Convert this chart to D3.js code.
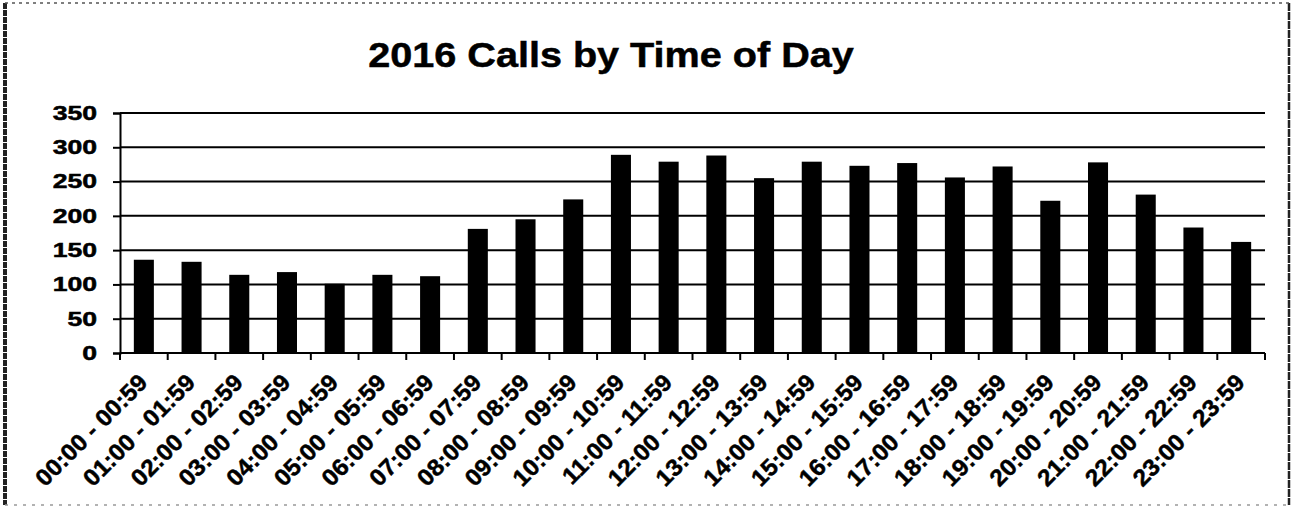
<!DOCTYPE html>
<html>
<head>
<meta charset="utf-8">
<script src="https://cdn.jsdelivr.net/npm/d3@7"></script>
<style>
  body { margin: 0; background: #fff; }
  text { font-family: Arial, "Liberation Sans", sans-serif; font-weight: bold; fill: #000;
         stroke: #000; stroke-width: 0.5px; }
</style>
</head>
<body>
<div id="chart"></div>
<script>
const title = "2016 Calls by Time of Day"

const hours = ["00:00 - 00:59", "01:00 - 01:59", "02:00 - 02:59", "03:00 - 03:59",
               "04:00 - 04:59", "05:00 - 05:59", "06:00 - 06:59", "07:00 - 07:59",
               "08:00 - 08:59", "09:00 - 09:59", "10:00 - 10:59", "11:00 - 11:59",
               "12:00 - 12:59", "13:00 - 13:59", "14:00 - 14:59", "15:00 - 15:59",
               "16:00 - 16:59", "17:00 - 17:59", "18:00 - 18:59", "19:00 - 19:59",
               "20:00 - 20:59", "21:00 - 21:59", "22:00 - 22:59", "23:00 - 23:59"]

const calls = [136, 133, 114, 118, 101, 114, 112, 181,
               195, 224, 289, 279, 288, 255, 279, 273,
               277, 256, 272, 222, 278, 231, 183, 162]

const yTicks = [0, 50, 100, 150, 200, 250, 300, 350]

const W = 1292, H = 508
const margin = {left: 120, right: 27, top: 113, bottom: 155}
// the scanned lettering is wider than plain Arial Bold
const stretch = 1.33

const svg = d3.select("#chart").append("svg")
      .attr("width", W)
      .attr("height", H)

// frame round the whole picture
svg.append("line").attr("x1", 5).attr("x2", 5).attr("y1", 3).attr("y2", 505)
  .attr("stroke", "#222").attr("stroke-width", 4).attr("stroke-dasharray", "6 1")
svg.append("line").attr("x1", 1289).attr("x2", 1289).attr("y1", 3).attr("y2", 505)
  .attr("stroke", "#222").attr("stroke-width", 2.5).attr("stroke-dasharray", "8 1")
svg.append("line").attr("x1", 5).attr("x2", 1289).attr("y1", 3).attr("y2", 3)
  .attr("stroke", "#555").attr("stroke-width", 1.5).attr("stroke-dasharray", "3 4")
svg.append("line").attr("x1", 5).attr("x2", 1289).attr("y1", 505).attr("y2", 505)
  .attr("stroke", "#999").attr("stroke-width", 1.5).attr("stroke-dasharray", "3 6")

svg.append("text")
  .attr("transform", "translate(611,67) scale(1.1,1)")
  .attr("text-anchor", "middle")
  .attr("font-size", "36px")
  .text(title)

const x = d3.scaleBand()
      .domain(hours)
      .range([margin.left, W - margin.right])
      .paddingInner(0.58)
      .paddingOuter(0.29)

const y = d3.scaleLinear()
      .domain([0, 350])
      .range([H - margin.bottom, margin.top])

// gridlines
svg.append("g")
  .selectAll("line")
  .data(yTicks.filter(t => t > 0))
  .join("line")
  .attr("x1", margin.left)
  .attr("x2", W - margin.right)
  .attr("y1", d => y(d))
  .attr("y2", d => y(d))
  .attr("stroke", "#000")
  .attr("stroke-width", 2)

svg.append("g")
  .selectAll("rect")
  .data(calls)
  .join("rect")
  .attr("x", (d, i) => x(hours[i]))
  .attr("y", d => y(d))
  .attr("width", x.bandwidth())
  .attr("height", d => y(0) - y(d))
  .attr("fill", "#000")

// y axis
const yAxis = svg.append("g")
      .attr("transform", `translate(${margin.left},0)`)
      .call(d3.axisLeft(y).tickValues(yTicks).tickSize(7))
yAxis.select(".domain").attr("stroke-width", 2)
yAxis.selectAll(".tick line").attr("stroke-width", 2)
yAxis.selectAll(".tick text")
  .attr("x", 0)
  .attr("transform", `translate(-23,0) scale(${stretch},1)`)
  .attr("font-size", "20px")

// x axis: ticks at category boundaries
const step = x.step()
const bounds = d3.range(hours.length + 1).map(i => margin.left + i * step)
svg.append("line")
  .attr("x1", margin.left).attr("x2", W - margin.right)
  .attr("y1", y(0)).attr("y2", y(0))
  .attr("stroke", "#000").attr("stroke-width", 2)
svg.append("g")
  .selectAll("line")
  .data(bounds)
  .join("line")
  .attr("x1", d => d).attr("x2", d => d)
  .attr("y1", y(0)).attr("y2", y(0) + 7)
  .attr("stroke", "#000").attr("stroke-width", 2)

svg.append("g")
  .selectAll("text")
  .data(hours)
  .join("text")
  .attr("transform", d => `translate(${x(d) + x.bandwidth() / 2 + 5},${y(0) + 31}) rotate(-45) scale(1.04,1)`)
  .attr("text-anchor", "end")
  .attr("font-size", "23.5px")
  .text(d => d)
</script>
</body>
</html>
